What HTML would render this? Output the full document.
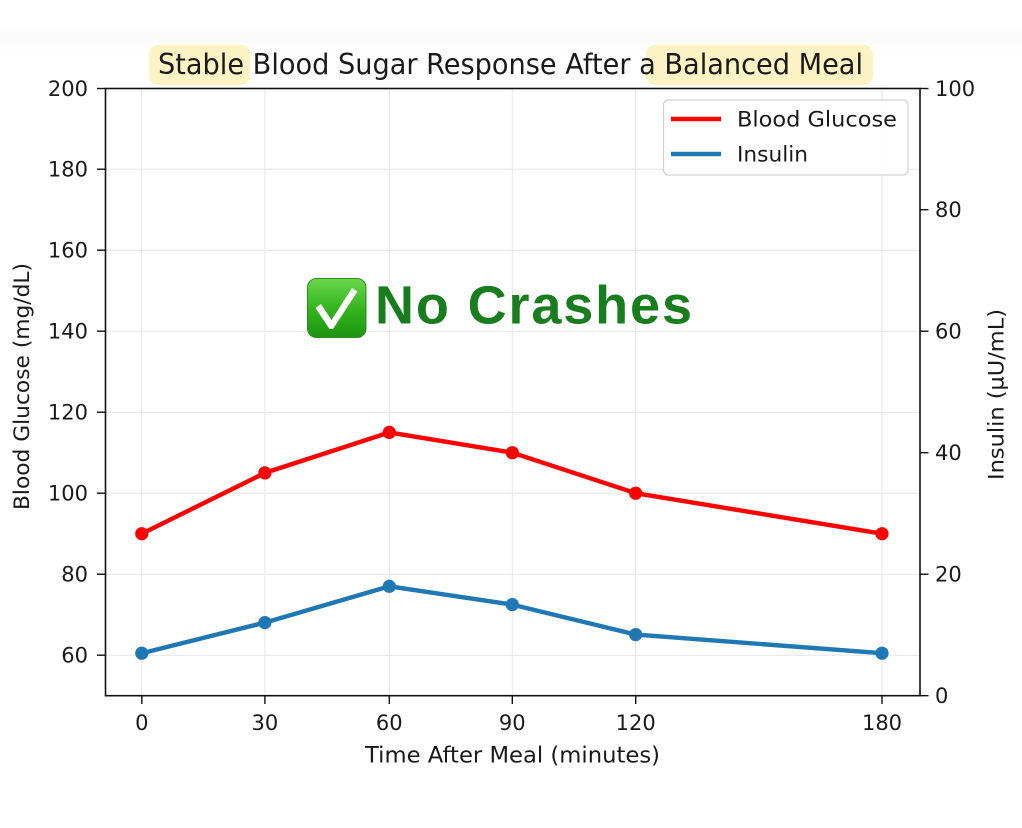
<!DOCTYPE html>
<html><head><meta charset="utf-8"><style>
html,body{margin:0;padding:0;background:#fff;}
svg{display:block;}
text{font-family:"DejaVu Sans","Liberation Sans",sans-serif;fill:#1a1a1a;}
</style></head><body>
<svg width="1022" height="828" viewBox="0 0 1022 828" xmlns="http://www.w3.org/2000/svg">
<defs>
<linearGradient id="topfade" x1="0" y1="0" x2="0" y2="1">
<stop offset="0" stop-color="#ffffff"/>
<stop offset="0.5" stop-color="#f6f6f6"/>
<stop offset="1" stop-color="#ffffff"/>
</linearGradient>
<linearGradient id="chk" x1="0" y1="0" x2="0" y2="1">
<stop offset="0" stop-color="#6ad84a"/>
<stop offset="0.5" stop-color="#35b51f"/>
<stop offset="1" stop-color="#1e9412"/>
</linearGradient>
</defs>
<rect width="1022" height="828" fill="#fff"/>
<rect x="0" y="22" width="1022" height="30" fill="url(#topfade)" opacity="0.7"/>

<!-- title highlights -->
<rect x="149" y="45" width="101" height="40" rx="9" fill="#fcf3c4"/>
<rect x="646" y="45" width="227" height="40" rx="9" fill="#fcf3c4"/>
<text x="158" y="74" font-size="28.5" textLength="705" lengthAdjust="spacingAndGlyphs">Stable Blood Sugar Response After a Balanced Meal</text>

<!-- grid -->
<g stroke="#e6e6e6" stroke-width="1">
<line x1="141.8" y1="88.5" x2="141.8" y2="695.7"/>
<line x1="264.9" y1="88.5" x2="264.9" y2="695.7"/>
<line x1="389.3" y1="88.5" x2="389.3" y2="695.7"/>
<line x1="512.3" y1="88.5" x2="512.3" y2="695.7"/>
<line x1="635.7" y1="88.5" x2="635.7" y2="695.7"/>
<line x1="882" y1="88.5" x2="882" y2="695.7"/>
<line x1="105.5" y1="655.2" x2="920" y2="655.2"/>
<line x1="105.5" y1="574.2" x2="920" y2="574.2"/>
<line x1="105.5" y1="493.2" x2="920" y2="493.2"/>
<line x1="105.5" y1="412.2" x2="920" y2="412.2"/>
<line x1="105.5" y1="331.2" x2="920" y2="331.2"/>
<line x1="105.5" y1="250.2" x2="920" y2="250.2"/>
<line x1="105.5" y1="169.2" x2="920" y2="169.2"/>
</g>

<!-- series -->
<polyline points="141.8,533.7 264.9,472.9 389.3,432.4 512.3,452.7 635.7,493.2 882,533.7" fill="none" stroke="#ff0000" stroke-width="4.4" stroke-linejoin="round"/>
<g fill="#ff0000">
<circle cx="141.8" cy="533.7" r="6.6"/><circle cx="264.9" cy="472.9" r="6.6"/><circle cx="389.3" cy="432.4" r="6.6"/>
<circle cx="512.3" cy="452.7" r="6.6"/><circle cx="635.7" cy="493.2" r="6.6"/><circle cx="882" cy="533.7" r="6.6"/>
</g>
<polyline points="141.8,653.2 264.9,622.6 389.3,586.3 512.3,604.6 635.7,634.6 882,653.2" fill="none" stroke="#1f77b4" stroke-width="4.4" stroke-linejoin="round"/>
<g fill="#1f77b4">
<circle cx="141.8" cy="653.2" r="6.6"/><circle cx="264.9" cy="622.6" r="6.6"/><circle cx="389.3" cy="586.3" r="6.6"/>
<circle cx="512.3" cy="604.6" r="6.6"/><circle cx="635.7" cy="634.6" r="6.6"/><circle cx="882" cy="653.2" r="6.6"/>
</g>

<!-- spines -->
<rect x="105.5" y="88.5" width="814.5" height="607.2" fill="none" stroke="#111" stroke-width="1.6"/>

<!-- ticks -->
<g stroke="#111" stroke-width="1.4">
<line x1="97" y1="655.2" x2="105.5" y2="655.2"/><line x1="97" y1="574.2" x2="105.5" y2="574.2"/>
<line x1="97" y1="493.2" x2="105.5" y2="493.2"/><line x1="97" y1="412.2" x2="105.5" y2="412.2"/>
<line x1="97" y1="331.2" x2="105.5" y2="331.2"/><line x1="97" y1="250.2" x2="105.5" y2="250.2"/>
<line x1="97" y1="169.2" x2="105.5" y2="169.2"/><line x1="97" y1="88.5" x2="105.5" y2="88.5"/>
<line x1="920" y1="695.7" x2="928.5" y2="695.7"/><line x1="920" y1="574.2" x2="928.5" y2="574.2"/>
<line x1="920" y1="452.7" x2="928.5" y2="452.7"/><line x1="920" y1="331.2" x2="928.5" y2="331.2"/>
<line x1="920" y1="209.7" x2="928.5" y2="209.7"/><line x1="920" y1="88.5" x2="928.5" y2="88.5"/>
<line x1="141.8" y1="695.7" x2="141.8" y2="704"/><line x1="264.9" y1="695.7" x2="264.9" y2="704"/>
<line x1="389.3" y1="695.7" x2="389.3" y2="704"/><line x1="512.3" y1="695.7" x2="512.3" y2="704"/>
<line x1="635.7" y1="695.7" x2="635.7" y2="704"/><line x1="882" y1="695.7" x2="882" y2="704"/>
</g>

<g font-size="21" text-anchor="end">
<text x="88" y="662.7">60</text><text x="88" y="581.7">80</text><text x="88" y="500.7">100</text>
<text x="88" y="419.7">120</text><text x="88" y="338.7">140</text><text x="88" y="257.7">160</text>
<text x="88" y="176.7">180</text><text x="88" y="96">200</text>
</g>
<g font-size="21" text-anchor="start">
<text x="935" y="703.2">0</text><text x="935" y="581.7">20</text><text x="935" y="460.2">40</text>
<text x="935" y="338.7">60</text><text x="935" y="217.2">80</text><text x="935" y="96">100</text>
</g>
<g font-size="21" text-anchor="middle">
<text x="141.8" y="730">0</text><text x="264.9" y="730">30</text><text x="389.3" y="730">60</text>
<text x="512.3" y="730">90</text><text x="635.7" y="730">120</text><text x="882" y="730">180</text>
</g>

<text x="365" y="762.5" font-size="22" textLength="295" lengthAdjust="spacingAndGlyphs">Time After Meal (minutes)</text>
<text transform="translate(29,510) rotate(-90)" x="0" y="0" font-size="21.5" textLength="247" lengthAdjust="spacingAndGlyphs">Blood Glucose (mg/dL)</text>
<text transform="translate(1003.3,480) rotate(-90)" x="0" y="0" font-size="21.5" textLength="171" lengthAdjust="spacingAndGlyphs">Insulin (µU/mL)</text>

<!-- legend -->
<rect x="663.5" y="100" width="244.5" height="75" rx="5" fill="#fff" fill-opacity="0.85" stroke="#d0d0d0" stroke-width="1.2"/>
<line x1="671" y1="119" x2="721" y2="119" stroke="#ff0000" stroke-width="4.4"/>
<line x1="671" y1="154" x2="721" y2="154" stroke="#1f77b4" stroke-width="4.4"/>
<text x="737" y="126.5" font-size="21.5" textLength="160" lengthAdjust="spacingAndGlyphs">Blood Glucose</text>
<text x="737" y="161.5" font-size="21.5" textLength="71" lengthAdjust="spacingAndGlyphs">Insulin</text>

<!-- overlay -->
<rect x="307.5" y="278.5" width="58.5" height="59" rx="9" fill="url(#chk)" stroke="#2a8f1c" stroke-width="1"/>
<polygon points="315.5,308 321,304 331.5,320 352,288 357.5,291.5 333,329 329.5,329" fill="#fff"/>
<text x="375" y="323.3" font-weight="bold" font-size="54" textLength="317" lengthAdjust="spacing" style="font-family:'Liberation Sans',Arial,sans-serif;fill:#187e1d">No Crashes</text>
</svg>
</body></html>
